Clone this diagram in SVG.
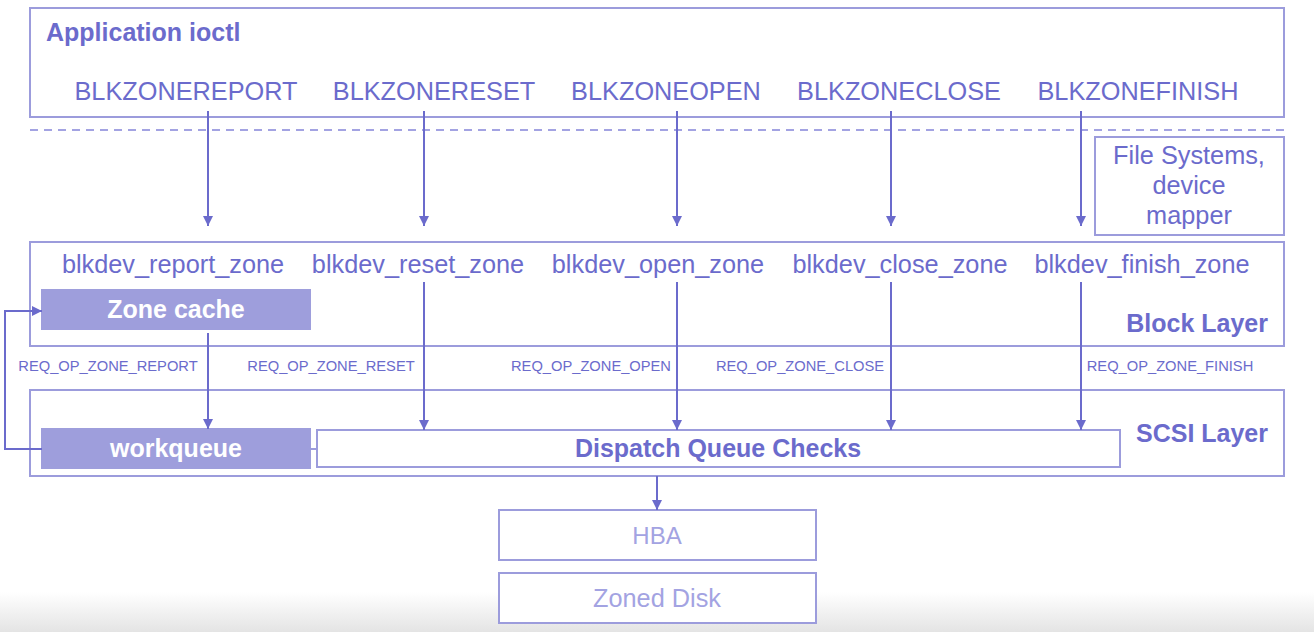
<svg xmlns="http://www.w3.org/2000/svg" width="1314" height="632" viewBox="0 0 1314 632">
<defs>
<linearGradient id="shade" x1="0" y1="0" x2="0" y2="1">
<stop offset="0" stop-color="#ffffff"/>
<stop offset="1" stop-color="#e4e4e4"/>
</linearGradient>
<marker id="ah" viewBox="0 0 10 10" refX="10" refY="5" markerWidth="10" markerHeight="10" markerUnits="userSpaceOnUse" orient="auto">
<path d="M0,0 L10,5 L0,10 z" fill="#6b6bcc"/>
</marker>
</defs>
<style>
.box{fill:#ffffff;stroke:#9c9cdc;stroke-width:2}
.fill{fill:#9e9edc;stroke:#9e9edc;stroke-width:2}
.t{font-family:"Liberation Sans",Arial,sans-serif;fill:#6b6bcc}
.b{font-weight:bold;font-size:25px}
.n{font-size:25.3px}
.r{font-size:14.7px}
.lt{fill:#a3a3e2}
.w{fill:#ffffff}
.c{stroke:#6b6bcc;stroke-width:2;fill:none}
</style>
<rect x="0" y="0" width="1314" height="632" fill="#ffffff"/>
<rect x="0" y="592" width="1314" height="40" fill="url(#shade)"/>

<g id="app">
<rect class="box" x="30" y="8" width="1254" height="109"/>
<text class="t b" x="46" y="41">Application ioctl</text>
<text class="t n" x="186" y="100" text-anchor="middle">BLKZONEREPORT</text>
<text class="t n" x="434" y="100" text-anchor="middle">BLKZONERESET</text>
<text class="t n" x="666" y="100" text-anchor="middle">BLKZONEOPEN</text>
<text class="t n" x="899" y="100" text-anchor="middle">BLKZONECLOSE</text>
<text class="t n" x="1138" y="100" text-anchor="middle">BLKZONEFINISH</text>
</g>

<g id="divider">
<line x1="30" y1="130" x2="1284" y2="130" stroke="#a3a3e2" stroke-width="2" stroke-dasharray="8,6"/>
</g>

<g id="fs">
<rect class="box" x="1095" y="137" width="189" height="98"/>
<text class="t n" x="1189" y="164" text-anchor="middle">File Systems,</text>
<text class="t n" x="1189" y="194" text-anchor="middle">device</text>
<text class="t n" x="1189" y="224" text-anchor="middle">mapper</text>
</g>

<g id="block">
<rect class="box" x="30" y="242" width="1254" height="104"/>
<text class="t n" x="173" y="273" text-anchor="middle">blkdev_report_zone</text>
<text class="t n" x="418" y="273" text-anchor="middle">blkdev_reset_zone</text>
<text class="t n" x="658" y="273" text-anchor="middle">blkdev_open_zone</text>
<text class="t n" x="900" y="273" text-anchor="middle">blkdev_close_zone</text>
<text class="t n" x="1142" y="273" text-anchor="middle">blkdev_finish_zone</text>
<text class="t b" x="1268" y="332" text-anchor="end">Block Layer</text>
</g>

<g id="zonecache">
<rect class="fill" x="42" y="290" width="268" height="39"/>
<text class="t b w" x="176" y="318" text-anchor="middle">Zone cache</text>
</g>

<g id="reqlabels">
<text class="t r" x="108" y="371" text-anchor="middle">REQ_OP_ZONE_REPORT</text>
<text class="t r" x="331" y="371" text-anchor="middle">REQ_OP_ZONE_RESET</text>
<text class="t r" x="591" y="371" text-anchor="middle">REQ_OP_ZONE_OPEN</text>
<text class="t r" x="800" y="371" text-anchor="middle">REQ_OP_ZONE_CLOSE</text>
<text class="t r" x="1170" y="371" text-anchor="middle">REQ_OP_ZONE_FINISH</text>
</g>

<g id="scsi">
<rect class="box" x="30" y="390" width="1254" height="86"/>
<text class="t b" x="1268" y="442" text-anchor="end">SCSI Layer</text>
</g>

<g id="workqueue">
<rect class="fill" x="42" y="429" width="268" height="39"/>
<text class="t b w" x="176" y="457" text-anchor="middle">workqueue</text>
</g>

<g id="dispatch">
<rect class="box" x="317" y="430" width="803" height="37"/>
<text class="t b" x="718" y="457" text-anchor="middle">Dispatch Queue Checks</text>
</g>

<g id="hba">
<rect class="box" x="499" y="510" width="317" height="50"/>
<text class="t lt" x="657" y="544" font-size="24" text-anchor="middle">HBA</text>
</g>

<g id="disk">
<rect class="box" x="499" y="573" width="317" height="50"/>
<text class="t lt n" x="657" y="607" text-anchor="middle">Zoned Disk</text>
</g>

<g id="connectors">
<line class="c" x1="208" y1="111" x2="208" y2="226" marker-end="url(#ah)"/>
<line class="c" x1="424" y1="111" x2="424" y2="226" marker-end="url(#ah)"/>
<line class="c" x1="677" y1="111" x2="677" y2="226" marker-end="url(#ah)"/>
<line class="c" x1="891" y1="111" x2="891" y2="226" marker-end="url(#ah)"/>
<line class="c" x1="1081" y1="111" x2="1081" y2="226" marker-end="url(#ah)"/>
<line class="c" x1="208" y1="333" x2="208" y2="429" marker-end="url(#ah)"/>
<line class="c" x1="424" y1="282" x2="424" y2="430" marker-end="url(#ah)"/>
<line class="c" x1="677" y1="282" x2="677" y2="430" marker-end="url(#ah)"/>
<line class="c" x1="891" y1="282" x2="891" y2="430" marker-end="url(#ah)"/>
<line class="c" x1="1081" y1="282" x2="1081" y2="430" marker-end="url(#ah)"/>
<polyline class="c" points="42,449 5,449 5,311 42,311" marker-end="url(#ah)"/>
<line x1="310" y1="449" x2="317" y2="449" stroke="#9c9cdc" stroke-width="2"/>
<line class="c" x1="657" y1="476" x2="657" y2="510" marker-end="url(#ah)"/>
</g>
</svg>
